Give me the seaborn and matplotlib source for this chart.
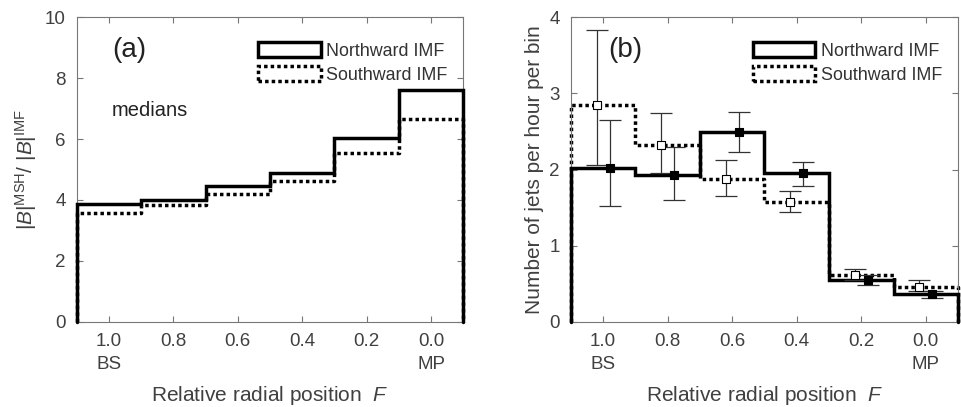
import numpy as np
import matplotlib
matplotlib.use("Agg")
import matplotlib.pyplot as plt
from matplotlib.patches import Patch
import seaborn as sns

# bins in relative radial position F (1 = bow shock, 0 = magnetopause)
centers = [1.0, 0.8, 0.6, 0.4, 0.2, 0.0]
edges = [1.1, 0.9, 0.7, 0.5, 0.3, 0.1, -0.1]
tick_labels = ["1.0\nBS", "0.8", "0.6", "0.4", "0.2", "0.0\nMP"]

# (a) median |B|msh / |B|imf
ratio_north = [3.86, 4.01, 4.45, 4.90, 6.04, 7.62]
ratio_south = [3.57, 3.84, 4.19, 4.63, 5.55, 6.67]

# (b) jets per hour per bin with error ranges
rate_north = [2.02, 1.93, 2.49, 1.95, 0.555, 0.37]
north_lo = [1.52, 1.60, 2.23, 1.79, 0.49, 0.31]
north_hi = [2.65, 2.30, 2.76, 2.10, 0.61, 0.41]
rate_south = [2.85, 2.32, 1.87, 1.58, 0.61, 0.46]
south_lo = [2.06, 1.95, 1.65, 1.44, 0.55, 0.40]
south_hi = [3.83, 2.74, 2.12, 1.72, 0.70, 0.55]

sns.set_style("ticks")
plt.rcParams["font.family"] = ["Liberation Sans", "DejaVu Sans"]
plt.rcParams["mathtext.fontset"] = "custom"
plt.rcParams["mathtext.rm"] = "Liberation Sans"
plt.rcParams["mathtext.it"] = "Liberation Sans:italic"

txt = "#404040"
spine = "#777777"
dotted = (0, (1.0, 0.9))

fig = plt.figure(figsize=(9.61, 4.07), dpi=100)
ax1 = fig.add_axes([0.080, 0.209, 0.402, 0.749])
ax2 = fig.add_axes([0.594, 0.209, 0.403, 0.749])


def stairs(ax, vals, ls, z):
    # histogram outline, dropping to zero at both outer edges
    xs = np.repeat(edges, 2)
    ys = np.concatenate([[0], np.repeat(vals, 2), [0]])
    sns.lineplot(x=xs, y=ys, sort=False, estimator=None, color="black",
                 linewidth=2.5, linestyle=ls, ax=ax, solid_joinstyle="miter",
                 dash_capstyle="butt", clip_on=False, zorder=z)


def style(ax, ymax, yticks, ylabel):
    ax.set_xlim(1.1, -0.1)
    ax.set_ylim(0, ymax)
    ax.set_xticks(centers)
    ax.set_xticklabels(tick_labels)
    ax.set_yticks(yticks)
    ax.tick_params(direction="in", top=True, right=True, length=4,
                   width=0.8, color=spine, labelcolor=txt, labelsize=13.5, pad=8)
    for t in ax.get_xticklabels():
        t.set_linespacing(1.45)
    for s in ax.spines.values():
        s.set_color(spine)
        s.set_linewidth(0.8)
    ax.set_xlabel("Relative radial position  $F$", fontsize=15, color=txt, labelpad=8)
    ax.set_ylabel(ylabel, fontsize=15, color=txt, labelpad=4)
    handles = [Patch(facecolor="none", edgecolor="black", linewidth=2.5),
               Patch(facecolor="none", edgecolor="black", linewidth=2.5, linestyle=dotted)]
    ax.legend(handles, ["Northward IMF", "Southward IMF"], loc="upper right",
              bbox_to_anchor=(0.977, 0.943), frameon=False, fontsize=12.9,
              handlelength=3.5, handleheight=0.95, labelspacing=0.35,
              handletextpad=0.3, borderaxespad=0, labelcolor="#333333")


# (a)
stairs(ax1, ratio_south, dotted, 2)
stairs(ax1, ratio_north, "-", 3)
style(ax1, 10, [0, 2, 4, 6, 8, 10], r"$|B|^{\mathrm{MSH}}/\ |B|^{\mathrm{IMF}}$")
ax1.text(0.091, 0.892, "(a)", transform=ax1.transAxes, fontsize=20, color="#222222",
         ha="left", va="center")
ax1.text(0.091, 0.695, "medians", transform=ax1.transAxes, fontsize=14.5,
         color="#222222", ha="left", va="center")

# (b)
stairs(ax2, rate_south, dotted, 2)
stairs(ax2, rate_north, "-", 3)
xn = np.array(centers) - 0.02
xs = np.array(centers) + 0.02
ax2.errorbar(xs, rate_south,
             yerr=[np.array(rate_south) - south_lo, np.array(south_hi) - rate_south],
             fmt="none", ecolor="#333333", elinewidth=0.9, capsize=8, capthick=0.9,
             zorder=4)
ax2.errorbar(xn, rate_north,
             yerr=[np.array(rate_north) - north_lo, np.array(north_hi) - rate_north],
             fmt="none", ecolor="#333333", elinewidth=0.9, capsize=8, capthick=0.9,
             zorder=4)
sns.scatterplot(x=xs, y=rate_south, marker="s", s=30, color="white",
                edgecolor="black", linewidth=0.8, ax=ax2, zorder=5)
sns.scatterplot(x=xn, y=rate_north, marker="s", s=30, color="black",
                edgecolor="black", linewidth=0.8, ax=ax2, zorder=5)
style(ax2, 4, [0, 1, 2, 3, 4], "Number of jets per hour per bin")
ax2.text(0.096, 0.892, "(b)", transform=ax2.transAxes, fontsize=20, color="#222222",
         ha="left", va="center")

fig.savefig("out.png", dpi=100)
